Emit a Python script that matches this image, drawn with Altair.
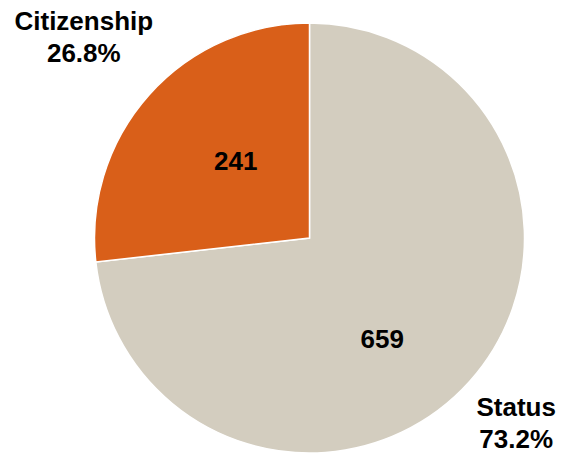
import altair as alt
import pandas as pd

categories = ["Status", "Citizenship"]
values = [659, 241]
colors = ["#D3CDBF", "#D95F19"]

total = sum(values)
df = pd.DataFrame({
    "category": categories,
    "value": values,
    "idx": list(range(len(categories))),
})
df["outer"] = [f"{c}\n{v / total * 100:.1f}%" for c, v in zip(categories, values)]

theta = alt.Theta("value:Q", stack=True)
order = alt.Order("idx:Q")
FONT = "Liberation Sans"

pie = alt.Chart(df).mark_arc(radius=215, stroke="white", strokeWidth=1.5).encode(
    theta=theta,
    order=order,
    color=alt.Color("category:N", scale=alt.Scale(domain=categories, range=colors), legend=None),
    x=alt.value(301.5),
    y=alt.value(230),
)

inner = alt.Chart(df).mark_text(
    radius=115, thetaOffset=0.15, font=FONT, fontSize=26, fontWeight="bold", color="black"
).encode(
    theta=theta,
    order=order,
    text=alt.Text("value:Q"),
    x=alt.value(301),
    y=alt.value(243),
)

outer = alt.Chart(df).mark_text(
    radius=290, font=FONT, fontSize=26, fontWeight="bold", color="black",
    lineBreak="\n", lineHeight=32,
).encode(
    theta=theta,
    order=order,
    text=alt.Text("outer:N"),
    x=alt.value(292),
    y=alt.value(207),
)

chart = alt.layer(pie, inner, outer).properties(
    width=556, height=445, padding=0,
    autosize=alt.AutoSizeParams(type="none"),
).configure_view(stroke=None)

chart.save("out.html", embed_options={"renderer": "svg", "actions": False})
